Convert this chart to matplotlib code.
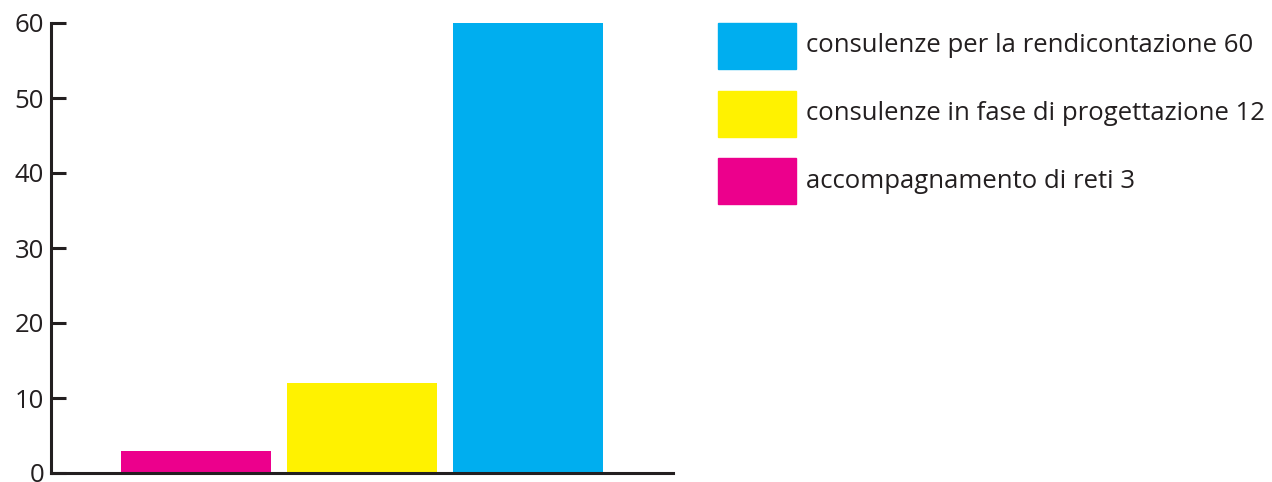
import matplotlib
matplotlib.use("Agg")
import matplotlib.pyplot as plt
from matplotlib.patches import Rectangle

labels = ["accompagnamento di reti", "consulenze in fase di progettazione", "consulenze per la rendicontazione"]
values = [3, 12, 60]
colors = ["#EC008C", "#FFF200", "#00AEEF"]
yticks = [0, 10, 20, 30, 40, 50, 60]

plt.rcParams["font.family"] = ["Open Sans", "DejaVu Sans"]
dark = "#231F20"

fig = plt.figure(figsize=(12.72, 4.82), dpi=100)
ax = fig.add_axes([51 / 1272, 9 / 482, 622 / 1272, 450 / 482])

x = range(len(values))
ax.bar(x, values, width=150 / 166, color=colors)
ax.set_xlim(-0.8735, 2.8735)
ax.set_ylim(0, 60)
ax.set_yticks(yticks)
ax.set_xticks([])
ax.tick_params(axis="y", direction="in", length=11, width=2.2, color=dark,
               labelsize=18.5, labelcolor=dark, pad=5)
for s in ["top", "right"]:
    ax.spines[s].set_visible(False)
for s in ["left", "bottom"]:
    ax.spines[s].set_linewidth(2.2)
    ax.spines[s].set_color(dark)

# legend, top to bottom in reverse order
box_top = [23, 91, 158]
for i, (lab, v, c) in enumerate(zip(labels[::-1], values[::-1], colors[::-1])):
    y0 = 1 - (box_top[i] + 46) / 482
    fig.patches.append(Rectangle((718 / 1272, y0), 78 / 1272, 46 / 482,
                                 transform=fig.transFigure, color=c))
    fig.text(806 / 1272, y0 + 23 / 482, f"{lab} {v}", fontsize=18.5, color=dark,
             va="center", ha="left")

fig.savefig("out.png", dpi=100)
